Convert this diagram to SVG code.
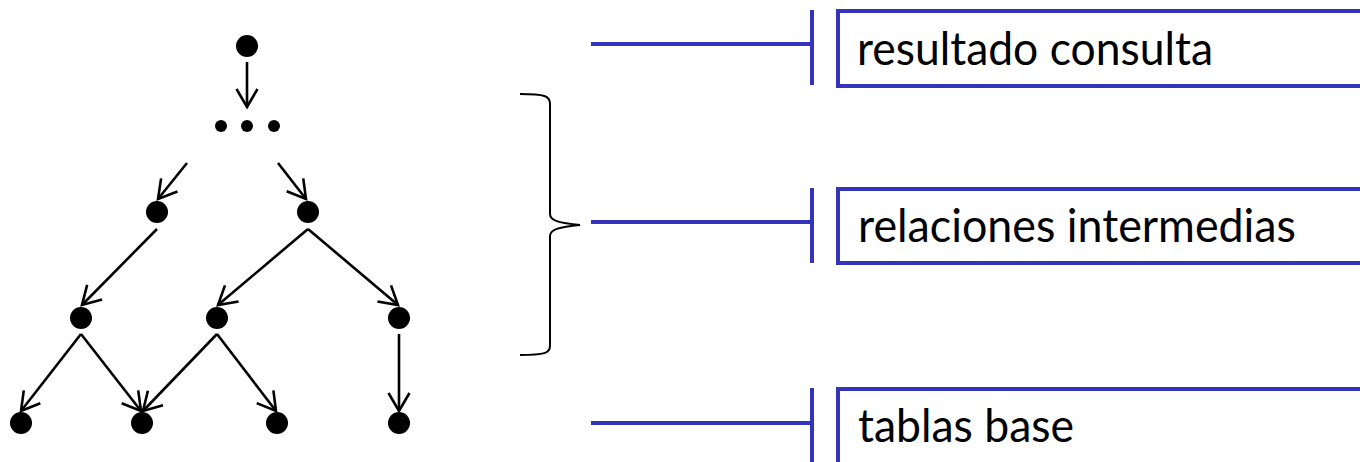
<svg xmlns="http://www.w3.org/2000/svg" width="1360" height="462" viewBox="0 0 1360 462">
<style>
.n{fill:#000}
.e{stroke:#000;stroke-width:2.6;fill:none;marker-end:url(#ah)}
.b{stroke:#3333BB;stroke-width:4;fill:none}
.t{font-family:Lato,"Liberation Sans",sans-serif;font-size:46px;fill:#000}
</style>
<defs>
<marker id="ah" viewBox="0 0 22 24" refX="19" refY="12" markerWidth="22" markerHeight="24" markerUnits="userSpaceOnUse" orient="auto">
<path d="M1,1.5 L19,12 L1,22.5" fill="none" stroke="#000" stroke-width="2.6"/>
</marker>
</defs>
<rect width="1360" height="462" fill="#fff"/>
<g id="connectors">
<line class="e" x1="247" y1="62" x2="247" y2="107"/>
<line class="e" x1="187" y1="163" x2="158" y2="199"/>
<line class="e" x1="278" y1="163" x2="306" y2="199"/>
<line class="e" x1="157" y1="229" x2="82" y2="305"/>
<line class="e" x1="308" y1="229" x2="218" y2="305"/>
<line class="e" x1="308" y1="229" x2="398" y2="305"/>
<line class="e" x1="81" y1="334" x2="21" y2="411"/>
<line class="e" x1="81" y1="334" x2="141" y2="411"/>
<line class="e" x1="217" y1="334" x2="143" y2="411"/>
<line class="e" x1="217" y1="334" x2="276" y2="411"/>
<line class="e" x1="399" y1="334" x2="399" y2="411"/>
<path d="M520,94 C545,94 550,96 550,104 L550,214 C550,221 560,223 580,225 C560,227 550,229 550,236 L550,346 C550,353 545,355 520,355" fill="none" stroke="#000" stroke-width="2"/>
<path class="b" d="M591,44 L812,44 M812,10 L812,85"/>
<path class="b" d="M591,222 L812,222 M812,188 L812,263"/>
<path class="b" d="M591,423 L812,423 M812,388 L812,462"/>
</g>
<g id="n0"><circle class="n" cx="247" cy="46" r="11"/></g>
<g id="dots"><circle class="n" cx="221" cy="126" r="6"/><circle class="n" cx="247" cy="126" r="6"/><circle class="n" cx="274" cy="126" r="6"/></g>
<g id="n1"><circle class="n" cx="157" cy="212" r="11"/></g>
<g id="n2"><circle class="n" cx="308" cy="212" r="11"/></g>
<g id="n3"><circle class="n" cx="81" cy="318" r="11"/></g>
<g id="n4"><circle class="n" cx="217" cy="318" r="11"/></g>
<g id="n5"><circle class="n" cx="399" cy="318" r="11"/></g>
<g id="n6"><circle class="n" cx="21" cy="423" r="11"/></g>
<g id="n7"><circle class="n" cx="142" cy="423" r="11"/></g>
<g id="n8"><circle class="n" cx="277" cy="423" r="11"/></g>
<g id="n9"><circle class="n" cx="399" cy="423" r="11"/></g>
<g id="box1"><path class="b" d="M1362,11 L838,11 L838,86 L1362,86"/><text class="t" x="857" y="65" textLength="356" lengthAdjust="spacingAndGlyphs">resultado consulta</text></g>
<g id="box2"><path class="b" d="M1362,189 L838,189 L838,263 L1362,263"/><text class="t" x="858" y="242" textLength="438" lengthAdjust="spacingAndGlyphs">relaciones intermedias</text></g>
<g id="box3"><path class="b" d="M1362,389 L838,389 L838,464"/><text class="t" x="858" y="442" textLength="216" lengthAdjust="spacingAndGlyphs">tablas base</text></g>
</svg>
